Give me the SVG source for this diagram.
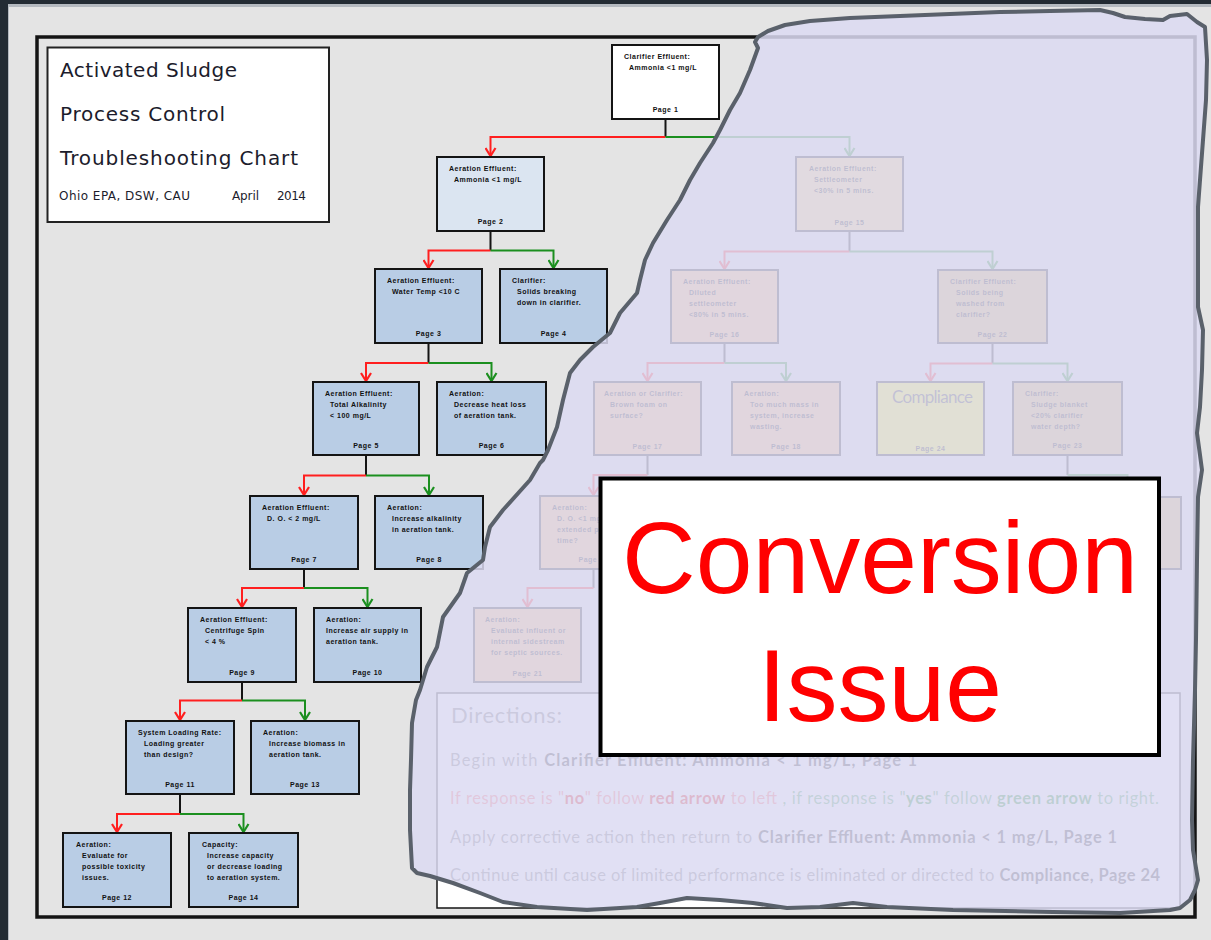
<svg xmlns="http://www.w3.org/2000/svg" width="1211" height="940" viewBox="0 0 1211 940">
  <defs>
    <style>
      .box { stroke: #141414; stroke-width: 2; }
      .white { fill: #ffffff; }
      .pale { fill: #dbe5f1; }
      .blue { fill: #b9cde5; }
      .peach { fill: #ffd878; }
      .pink { fill: #ffb96e; }
      .tan { fill: #dcb45a; }
      .yel { fill: #ffff30; }
      .t { font-family: "Liberation Sans", Arial, sans-serif; font-size: 7px; font-weight: bold; letter-spacing: 0.5px; fill: #111111; }
      .pg { text-anchor: middle; }
      .stem { stroke: #141414; stroke-width: 2; fill: none; }
      .no { stroke: #ff1f1f; stroke-width: 2; fill: none; marker-end: url(#arrRed); }
      .yes { stroke: #1b8f1f; stroke-width: 2; fill: none; marker-end: url(#arrGreen); }
      .title { font-family: "DejaVu Sans", Verdana, sans-serif; font-size: 20px; fill: #1c1c2c; }
      .sub { font-family: "DejaVu Sans", Verdana, sans-serif; font-size: 12px; fill: #1c1c2c; }
      .dir { font-family: Lato, "Open Sans", sans-serif; font-size: 16.5px; }
      .dn { fill: #6a6a6a; }
      .db { fill: #262626; font-weight: bold; }
      .rn { fill: #ff6060; }
      .rb { fill: #e00000; font-weight: bold; }
      .gn { fill: #40a050; }
      .gb { fill: #108a20; font-weight: bold; }
      .big { font-family: "Liberation Sans", Arial, sans-serif; font-size: 102px; fill: #ff0000; text-anchor: middle; }
    </style>
    <marker id="arrRed" markerUnits="userSpaceOnUse" markerWidth="12" markerHeight="12" viewBox="-11 -6 12 12" refX="0" refY="0" orient="auto">
      <path d="M-8,-5 L0,0 L-8,5" fill="none" stroke="#ff1f1f" stroke-width="2.2"/>
    </marker>
    <marker id="arrGreen" markerUnits="userSpaceOnUse" markerWidth="12" markerHeight="12" viewBox="-11 -6 12 12" refX="0" refY="0" orient="auto">
      <path d="M-8,-5 L0,0 L-8,5" fill="none" stroke="#1b8f1f" stroke-width="2.2"/>
    </marker>
  </defs>

  <!-- window chrome and page -->
  <rect width="1211" height="940" fill="#232b33"/>
  <rect x="8" y="4" width="1203" height="936" fill="#b4b9bf"/>
  <rect x="9" y="7" width="1202" height="933" fill="#e4e4e4"/>

  <!-- chart frame -->
  <rect x="37" y="37" width="1158" height="880" fill="none" stroke="#141414" stroke-width="3.5"/>

  <!-- title block -->
  <g id="title">
    <rect x="47.5" y="47.5" width="281.5" height="174.5" fill="#ffffff" stroke="#222222" stroke-width="2"/>
    <text class="title" x="60" y="77" textLength="177">Activated Sludge</text>
    <text class="title" x="60" y="121" textLength="165">Process Control</text>
    <text class="title" x="60" y="165" textLength="238">Troubleshooting Chart</text>
    <text class="sub" x="59" y="200" textLength="131">Ohio EPA, DSW, CAU</text>
    <text class="sub" x="232" y="200" textLength="27">April</text>
    <text class="sub" x="277" y="200" textLength="29">2014</text>
  </g>

  <!-- connectors: black stem, red = no (left), green = yes (right) -->
  <g id="connectors">
    <path class="stem" d="M665.5,119 V137"/>
    <path class="no" d="M665.5,137 H490.5 V156"/>
    <path class="yes" d="M665.5,137 H849.5 V156"/>

    <path class="stem" d="M490.5,231 V250.5"/>
    <path class="no" d="M490.5,250.5 H428.5 V268"/>
    <path class="yes" d="M490.5,250.5 H553.5 V268"/>

    <path class="stem" d="M428.5,343 V363"/>
    <path class="no" d="M428.5,363 H366 V381"/>
    <path class="yes" d="M428.5,363 H491.5 V381"/>

    <path class="stem" d="M366,455 V475.5"/>
    <path class="no" d="M366,475.5 H304 V495"/>
    <path class="yes" d="M366,475.5 H429 V495"/>

    <path class="stem" d="M304,569 V588"/>
    <path class="no" d="M304,588 H242 V607"/>
    <path class="yes" d="M304,588 H367.5 V607"/>

    <path class="stem" d="M242,682 V700.5"/>
    <path class="no" d="M242,700.5 H180 V720"/>
    <path class="yes" d="M242,700.5 H305 V720"/>

    <path class="stem" d="M180,794 V814"/>
    <path class="no" d="M180,814 H117 V832"/>
    <path class="yes" d="M180,814 H243.5 V832"/>

    <path class="stem" d="M849.5,231 V251.5"/>
    <path class="no" d="M849.5,251.5 H724.5 V269"/>
    <path class="yes" d="M849.5,251.5 H992.5 V269"/>

    <path class="stem" d="M724.5,343 V363"/>
    <path class="no" d="M724.5,363 H647.5 V381"/>
    <path class="yes" d="M724.5,363 H786 V381"/>

    <path class="stem" d="M992.5,343 V363.5"/>
    <path class="no" d="M992.5,363.5 H930.5 V381"/>
    <path class="yes" d="M992.5,363.5 H1067.5 V381"/>

    <path class="stem" d="M1067.5,455 V475"/>
    <path class="yes" d="M1067.5,475 H1127.5 V496"/>

    <path class="stem" d="M647.5,455 V475"/>
    <path class="no" d="M647.5,475 H593.5 V495"/>

    <path class="stem" d="M593.5,569 V588"/>
    <path class="no" d="M593.5,588 H527.5 V607"/>
  </g>

  <!-- decision and action nodes -->
  <g id="n1">
    <rect class="box white" x="612" y="45" width="107" height="74"/>
    <text class="t" x="624" y="59">Clarifier Effluent:</text>
    <text class="t" x="629" y="70">Ammonia &lt;1 mg/L</text>
    <text class="t pg" x="665.5" y="112">Page 1</text>
  </g>
  <g id="n2">
    <rect class="box pale" x="437" y="157" width="107" height="74"/>
    <text class="t" x="449" y="171">Aeration Effluent:</text>
    <text class="t" x="454" y="182">Ammonia &lt;1 mg/L</text>
    <text class="t pg" x="490.5" y="224">Page 2</text>
  </g>
  <g id="n3">
    <rect class="box blue" x="375" y="269" width="107" height="74"/>
    <text class="t" x="387" y="283">Aeration Effluent:</text>
    <text class="t" x="392" y="294">Water Temp &lt;10 C</text>
    <text class="t pg" x="428.5" y="336">Page 3</text>
  </g>
  <g id="n4">
    <rect class="box blue" x="500" y="269" width="107" height="74"/>
    <text class="t" x="512" y="283">Clarifier:</text>
    <text class="t" x="517" y="294">Solids breaking</text>
    <text class="t" x="517" y="305">down in clarifier.</text>
    <text class="t pg" x="553.5" y="336">Page 4</text>
  </g>
  <g id="n5">
    <rect class="box blue" x="313" y="382" width="106" height="73"/>
    <text class="t" x="325" y="396">Aeration Effluent:</text>
    <text class="t" x="330" y="407">Total Alkalinity</text>
    <text class="t" x="330" y="418">&lt; 100 mg/L</text>
    <text class="t pg" x="366" y="448">Page 5</text>
  </g>
  <g id="n6">
    <rect class="box blue" x="437" y="382" width="109" height="73"/>
    <text class="t" x="449" y="396">Aeration:</text>
    <text class="t" x="454" y="407">Decrease heat loss</text>
    <text class="t" x="454" y="418">of aeration tank.</text>
    <text class="t pg" x="491.5" y="448">Page 6</text>
  </g>
  <g id="n7">
    <rect class="box blue" x="250" y="496" width="108" height="73"/>
    <text class="t" x="262" y="510">Aeration Effluent:</text>
    <text class="t" x="267" y="521">D. O. &lt; 2 mg/L</text>
    <text class="t pg" x="304" y="562">Page 7</text>
  </g>
  <g id="n8">
    <rect class="box blue" x="375" y="496" width="108" height="73"/>
    <text class="t" x="387" y="510">Aeration:</text>
    <text class="t" x="392" y="521">Increase alkalinity</text>
    <text class="t" x="392" y="532">in aeration tank.</text>
    <text class="t pg" x="429" y="562">Page 8</text>
  </g>
  <g id="n9">
    <rect class="box blue" x="188" y="608" width="108" height="74"/>
    <text class="t" x="200" y="622">Aeration Effluent:</text>
    <text class="t" x="205" y="633">Centrifuge Spin</text>
    <text class="t" x="205" y="644">&lt; 4 %</text>
    <text class="t pg" x="242" y="675">Page 9</text>
  </g>
  <g id="n10">
    <rect class="box blue" x="314" y="608" width="107" height="74"/>
    <text class="t" x="326" y="622">Aeration:</text>
    <text class="t" x="326" y="633">Increase air supply in</text>
    <text class="t" x="326" y="644">aeration tank.</text>
    <text class="t pg" x="367.5" y="675">Page 10</text>
  </g>
  <g id="n11">
    <rect class="box blue" x="126" y="721" width="108" height="73"/>
    <text class="t" x="138" y="735">System Loading Rate:</text>
    <text class="t" x="144" y="746">Loading greater</text>
    <text class="t" x="144" y="757">than design?</text>
    <text class="t pg" x="180" y="787">Page 11</text>
  </g>
  <g id="n12">
    <rect class="box blue" x="251" y="721" width="108" height="73"/>
    <text class="t" x="263" y="735">Aeration:</text>
    <text class="t" x="269" y="746">Increase biomass in</text>
    <text class="t" x="269" y="757">aeration tank.</text>
    <text class="t pg" x="305" y="787">Page 13</text>
  </g>
  <g id="n13">
    <rect class="box blue" x="63" y="833" width="108" height="74"/>
    <text class="t" x="76" y="847">Aeration:</text>
    <text class="t" x="82" y="858">Evaluate for</text>
    <text class="t" x="82" y="869">possible toxicity</text>
    <text class="t" x="82" y="880">issues.</text>
    <text class="t pg" x="117" y="900">Page 12</text>
  </g>
  <g id="n14">
    <rect class="box blue" x="189" y="833" width="109" height="74"/>
    <text class="t" x="202" y="847">Capacity:</text>
    <text class="t" x="207" y="858">Increase capacity</text>
    <text class="t" x="207" y="869">or decrease loading</text>
    <text class="t" x="207" y="880">to aeration system.</text>
    <text class="t pg" x="243.5" y="900">Page 14</text>
  </g>

  <g id="n15">
    <rect class="box peach" x="796" y="157" width="107" height="74"/>
    <text class="t" x="809" y="171">Aeration Effluent:</text>
    <text class="t" x="814" y="182">Settleometer</text>
    <text class="t" x="814" y="193">&lt;30% in 5 mins.</text>
    <text class="t pg" x="849.5" y="225">Page 15</text>
  </g>
  <g id="n16">
    <rect class="box pink" x="671" y="270" width="107" height="73"/>
    <text class="t" x="683" y="284">Aeration Effluent:</text>
    <text class="t" x="689" y="295">Diluted</text>
    <text class="t" x="689" y="306">settleometer</text>
    <text class="t" x="689" y="317">&lt;80% in 5 mins.</text>
    <text class="t pg" x="724.5" y="337">Page 16</text>
  </g>
  <g id="n17">
    <rect class="box pink" x="594" y="382" width="107" height="73"/>
    <text class="t" x="604" y="396">Aeration or Clarifier:</text>
    <text class="t" x="610" y="407">Brown foam on</text>
    <text class="t" x="610" y="418">surface?</text>
    <text class="t pg" x="647.5" y="449">Page 17</text>
  </g>
  <g id="n18">
    <rect class="box pink" x="732" y="382" width="108" height="73"/>
    <text class="t" x="744" y="396">Aeration:</text>
    <text class="t" x="750" y="407">Too much mass in</text>
    <text class="t" x="750" y="418">system, increase</text>
    <text class="t" x="750" y="429">wasting.</text>
    <text class="t pg" x="786" y="449">Page 18</text>
  </g>
  <g id="n19">
    <rect class="box pink" x="540" y="496" width="107" height="73"/>
    <text class="t" x="552" y="510">Aeration:</text>
    <text class="t" x="557" y="521">D. O. &lt;1 mg/L</text>
    <text class="t" x="557" y="532">extended periods of</text>
    <text class="t" x="557" y="543">time?</text>
    <text class="t pg" x="593.5" y="562">Page 19</text>
  </g>
  <g id="n21">
    <rect class="box pink" x="474" y="608" width="107" height="74"/>
    <text class="t" x="485" y="622">Aeration:</text>
    <text class="t" x="491" y="633">Evaluate influent or</text>
    <text class="t" x="491" y="644">internal sidestream</text>
    <text class="t" x="491" y="655">for septic sources.</text>
    <text class="t pg" x="527.5" y="676">Page 21</text>
  </g>
  <g id="n22">
    <rect class="box tan" x="938" y="270" width="109" height="73"/>
    <text class="t" x="950" y="284">Clarifier Effluent:</text>
    <text class="t" x="956" y="295">Solids being</text>
    <text class="t" x="956" y="306">washed from</text>
    <text class="t" x="956" y="317">clarifier?</text>
    <text class="t pg" x="992.5" y="337">Page 22</text>
  </g>
  <g id="n23">
    <rect class="box tan" x="1013" y="382" width="109" height="73"/>
    <text class="t" x="1025" y="396">Clarifier:</text>
    <text class="t" x="1031" y="407">Sludge blanket</text>
    <text class="t" x="1031" y="418">&lt;20% clarifier</text>
    <text class="t" x="1031" y="429">water depth?</text>
    <text class="t pg" x="1067.5" y="448">Page 23</text>
  </g>
  <g id="n24">
    <rect class="box yel" x="877" y="382" width="107" height="73"/>
    <text x="892" y="403" font-family="Lato, 'Open Sans', sans-serif" font-size="17" fill="#333333" textLength="81">Compliance</text>
    <text class="t pg" x="930.5" y="451">Page 24</text>
  </g>
  <g id="n25">
    <rect class="box tan" x="1074" y="497" width="107" height="72"/>
  </g>

  <!-- directions panel -->
  <g id="directions">
    <rect x="437" y="693" width="743" height="215" fill="#ffffff" stroke="#141414" stroke-width="1.5"/>
    <text x="451" y="723" font-family="Lato, 'Open Sans', sans-serif" font-size="22" fill="#6a6a6a" textLength="111">Directions:</text>
    <text class="dir" x="450" y="766" textLength="467"><tspan class="dn">Begin with </tspan><tspan class="db">Clarifier Effluent: Ammonia &lt; 1 mg/L, Page 1</tspan></text>
    <text class="dir" x="450" y="804" textLength="709"><tspan class="rn">If response is "</tspan><tspan class="rb">no</tspan><tspan class="rn">" follow </tspan><tspan class="rb">red arrow</tspan><tspan class="rn"> to left </tspan><tspan class="gn">, if response is "</tspan><tspan class="gb">yes</tspan><tspan class="gn">" follow </tspan><tspan class="gb">green arrow</tspan><tspan class="gn"> to right.</tspan></text>
    <text class="dir" x="450" y="843" textLength="667"><tspan class="dn">Apply corrective action then return to </tspan><tspan class="db">Clarifier Effluent: Ammonia &lt; 1 mg/L, Page 1</tspan></text>
    <text class="dir" x="450" y="881" textLength="710"><tspan class="dn">Continue until cause of limited performance is eliminated or directed to </tspan><tspan class="db">Compliance, Page 24</tspan></text>
  </g>

  <!-- torn translucent sheet laid over the right half -->
  <path id="veil" d="M758,37 L768,31 L785,25 L810,21 L850,18 L900,16 L950,14 L1000,12 L1050,11 L1100,10 L1113,13 L1125,17 L1145,19 L1163,20 L1170,16 L1187,14 L1197,22 L1205,27 L1207,60 L1206,100 L1203,140 L1200,180 L1198,207 L1198,260 L1198,307 L1203,330 L1202,370 L1200,407 L1197,433 L1200,455 L1202,470 L1198,497 L1197,560 L1196,640 L1195,690 L1193,760 L1192,820 L1193,850 L1198,880 L1195,890 L1190,900 L1180,908 L1170,910 L1120,913 L1053,912 L953,910 L887,907 L853,903 L820,907 L787,908 L753,903 L720,900 L687,898 L660,903 L637,907 L587,910 L537,907 L503,902 L480,893 L453,883 L430,876 L417,873 L412,868 L410,830 L410,790 L411,760 L412,723 L416,700 L420,690 L427,667 L437,647 L443,617 L460,593 L467,573 L483,560 L485,547 L490,527 L503,510 L530,480 L540,463 L543,460 L548,450 L557,427 L563,400 L570,373 L580,360 L593,347 L610,333 L620,313 L637,293 L640,280 L645,260 L653,243 L667,220 L680,200 L690,180 L700,163 L713,143 L720,130 L730,110 L740,93 L750,70 L758,48 L755,42 Z" fill="#dcdbf2" fill-opacity="0.85" stroke="#5a616b" stroke-width="4" stroke-linejoin="round"/>

  <!-- notice box -->
  <g id="notice">
    <rect x="600.5" y="478.5" width="558.5" height="276.5" fill="#ffffff" stroke="#000000" stroke-width="4"/>
    <text class="big" x="880" y="593">Conversion</text>
    <text class="big" x="880" y="721">Issue</text>
  </g>
</svg>
